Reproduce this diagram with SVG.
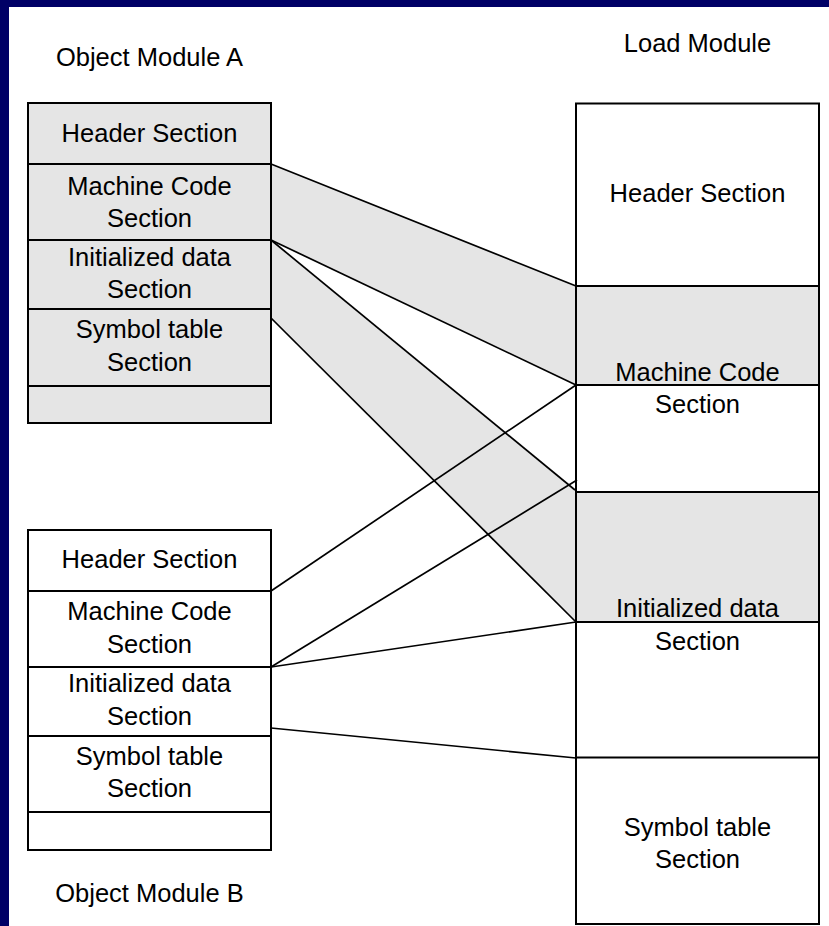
<svg xmlns="http://www.w3.org/2000/svg" width="829" height="926" viewBox="0 0 829 926">
  <style>
    text { font-family: "Liberation Sans", Arial, sans-serif; font-size: 25.5px; fill: #000; text-anchor: middle; }
    .box { stroke: #000; stroke-width: 2; }
    .shade { fill: #e5e5e5; }
    .plain { fill: #fff; }
    .link { stroke: #000; stroke-width: 1.7; fill: none; }
    .band { fill: #e5e5e5; stroke: none; }
  </style>

  <!-- frame -->
  <rect x="0" y="0" width="829" height="926" fill="#000066"/>
  <rect x="9" y="7" width="820" height="919" fill="#fff"/>

  <!-- shaded bands from module A into the load module -->
  <g id="bands">
    <polygon class="band" points="271,164 576,286 576,385 271,240"/>
    <polygon class="band" points="271,240 575,490 576,622 271,318"/>
  </g>

  <!-- Object Module A -->
  <g id="module-a">
    <text x="149.5" y="66">Object Module A</text>
    <rect class="box shade" x="28" y="103" width="243" height="61"/>
    <rect class="box shade" x="28" y="164" width="243" height="76"/>
    <rect class="box shade" x="28" y="240" width="243" height="69"/>
    <rect class="box shade" x="28" y="309" width="243" height="77"/>
    <rect class="box shade" x="28" y="386" width="243" height="37"/>
    <text x="149.5" y="142">Header Section</text>
    <text x="149.5" y="195">Machine Code</text>
    <text x="149.5" y="227">Section</text>
    <text x="149.5" y="266">Initialized data</text>
    <text x="149.5" y="298">Section</text>
    <text x="149.5" y="338">Symbol table</text>
    <text x="149.5" y="371">Section</text>
  </g>

  <!-- Object Module B -->
  <g id="module-b">
    <rect class="box plain" x="28" y="530" width="243" height="61"/>
    <rect class="box plain" x="28" y="591" width="243" height="76"/>
    <rect class="box plain" x="28" y="667" width="243" height="69"/>
    <rect class="box plain" x="28" y="736" width="243" height="76"/>
    <rect class="box plain" x="28" y="812" width="243" height="38"/>
    <text x="149.5" y="568">Header Section</text>
    <text x="149.5" y="620">Machine Code</text>
    <text x="149.5" y="653">Section</text>
    <text x="149.5" y="692">Initialized data</text>
    <text x="149.5" y="725">Section</text>
    <text x="149.5" y="765">Symbol table</text>
    <text x="149.5" y="797">Section</text>
    <text x="149.5" y="902">Object Module B</text>
  </g>

  <!-- Load Module -->
  <g id="load-module">
    <text x="697.5" y="52">Load Module</text>
    <rect class="box plain" x="576" y="103.5" width="243" height="820.5"/>
    <rect class="box shade" x="576" y="286" width="243" height="99"/>
    <rect class="box shade" x="576" y="492" width="243" height="130"/>
    <line class="box" x1="576" y1="757.5" x2="819" y2="757.5"/>
    <text x="697.5" y="202">Header Section</text>
    <text x="697.5" y="381">Machine Code</text>
    <text x="697.5" y="413">Section</text>
    <text x="697.5" y="616.5">Initialized data</text>
    <text x="697.5" y="650">Section</text>
    <text x="697.5" y="835.5">Symbol table</text>
    <text x="697.5" y="868">Section</text>
  </g>

  <!-- connectors -->
  <g id="connectors">
    <line class="link" x1="271" y1="164" x2="576" y2="286"/>
    <line class="link" x1="271" y1="240" x2="576" y2="385"/>
    <line class="link" x1="271" y1="240" x2="575" y2="490"/>
    <line class="link" x1="271" y1="318" x2="576" y2="622"/>
    <line class="link" x1="271" y1="591" x2="576" y2="385"/>
    <line class="link" x1="271" y1="667" x2="577" y2="480"/>
    <line class="link" x1="271" y1="667" x2="576" y2="622"/>
    <line class="link" x1="271" y1="728" x2="576" y2="758"/>
  </g>
</svg>
